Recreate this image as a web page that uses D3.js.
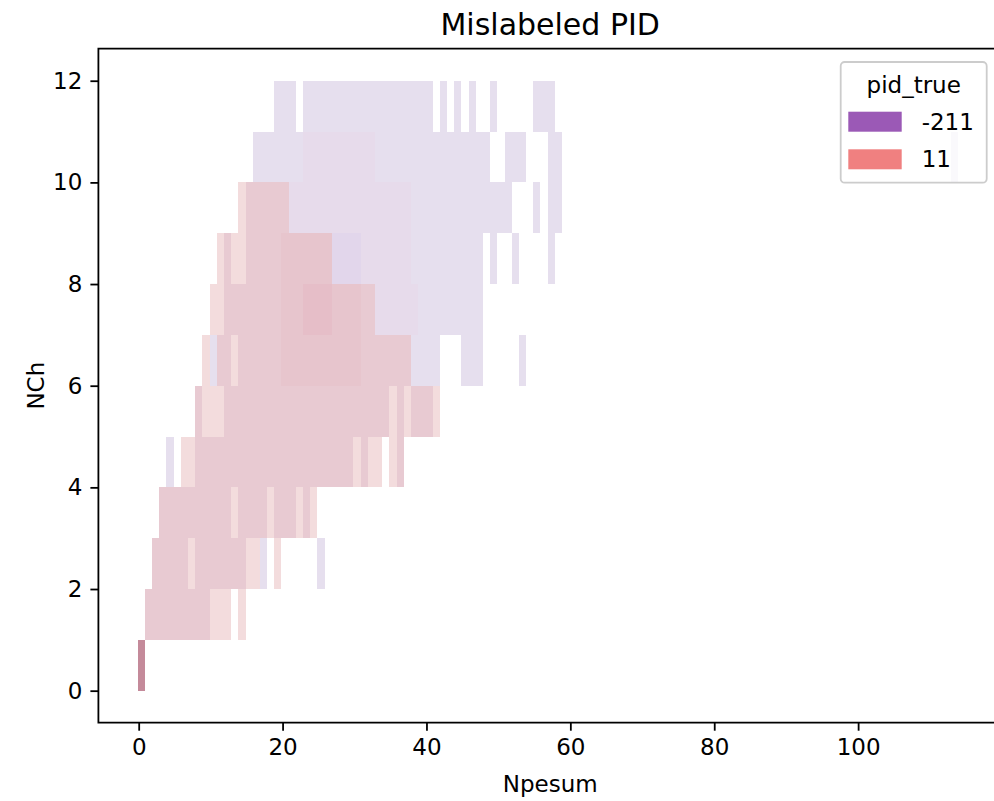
<!DOCTYPE html>
<html>
<head>
<meta charset="utf-8">
<script src="https://cdn.jsdelivr.net/npm/d3@7"></script>
<style>
  body { margin: 0; background: #fff; }
  text { font-family: "DejaVu Sans", sans-serif; fill: #000; }
</style>
</head>
<body>
<svg id="chart" width="994" height="801"></svg>
<script>
// Npesum bins: uniform, width 1, first edge just below 0
var npesumBinStart = -0.15;
var npesumBinWidth = 1;

// cells per hue: [NCh bin, first Npesum bin, end bin (excl.), shade level]
var pionCells = [
  [11,19,22,1],[11,23,41,1],[11,42,43,1],[11,44,45,1],[11,46,47,1],[11,49,50,1],[11,55,58,1],
  [10,16,23,1],[10,23,33,2],[10,33,49,1],[10,51,54,1],[10,57,59,1],[10,113,114,1],
  [9,21,38,2],[9,38,52,1],[9,55,56,1],[9,57,59,1],
  [8,27,31,3],[8,31,38,2],[8,38,48,1],[8,49,50,1],[8,52,53,1],[8,57,58,1],
  [7,33,39,2],[7,39,48,1],
  [6,10,11,1],[6,38,42,1],[6,45,48,1],[6,53,54,1],
  [4,4,5,1],
  [2,17,18,1],[2,25,26,1]
];
var electronCells = [
  [9,14,15,1],[9,15,21,2],
  [8,11,12,1],[8,12,13,2],[8,13,15,1],[8,15,20,2],[8,20,27,3],
  [7,10,12,1],[7,12,20,2],[7,20,23,3],[7,23,27,4],[7,27,31,3],[7,31,33,2],
  [6,9,10,1],[6,11,13,2],[6,13,14,1],[6,14,20,2],[6,20,31,3],[6,31,38,2],
  [5,8,9,2],[5,9,12,1],[5,12,35,2],[5,35,36,1],[5,36,37,2],[5,37,38,1],[5,38,41,2],[5,41,42,1],
  [4,6,8,1],[4,8,30,2],[4,30,31,1],[4,31,32,2],[4,32,34,1],[4,35,36,1],[4,36,37,2],
  [3,3,13,2],[3,13,14,1],[3,14,18,2],[3,18,19,1],[3,19,22,2],[3,22,23,1],[3,23,24,2],[3,24,25,1],
  [2,2,7,2],[2,7,8,1],[2,8,15,2],[2,15,17,1],[2,19,20,1],
  [1,1,10,2],[1,10,13,1],[1,14,15,1],
  [0,0,1,5]
];

var hueLabels = ["-211", "11"];
var xTicks = [0, 20, 40, 60, 80, 100];
var yTicks = [0, 2, 4, 6, 8, 10, 12];

// colours
var hueColors = ["#9b59b6", "#f08080"];
var pionShades = {1: "#e6dfee", 2: "#e7dbeb", 3: "#e2d6eb"};
var electronShades = {1: "#f3dcdd", 2: "#e8cad2", 3: "#e7c5cd", 4: "#e6bec8", 5: "#c48a9a"};

(function() {
  var svg = d3.select("#chart");
  var pl = 98.4, pr = 1002, pt = 48.7, pb = 722.7;

  var x = d3.scaleLinear().domain([-5.6, 120]).range([pl, pr]);
  var y = d3.scaleLinear().domain([-0.63, 12.63]).range([pb, pt]);

  function drawCells(cells, shades, cls) {
    svg.append("g").attr("class", cls)
      .selectAll("rect").data(cells).enter().append("rect")
      .attr("x", function(d) { return x(npesumBinStart + d[1] * npesumBinWidth); })
      .attr("width", function(d) { return x(npesumBinStart + d[2] * npesumBinWidth) - x(npesumBinStart + d[1] * npesumBinWidth); })
      .attr("y", function(d) { return y(d[0] + 1); })
      .attr("height", function(d) { return y(d[0]) - y(d[0] + 1); })
      .attr("fill", function(d) { return shades[d[3]]; })
      .attr("shape-rendering", "crispEdges");
  }
  drawCells(pionCells, pionShades, "pion");
  drawCells(electronCells, electronShades, "electron");

  // axes
  var xAxis = svg.append("g").attr("transform", "translate(0," + pb + ")")
    .call(d3.axisBottom(x).tickValues(xTicks).tickSize(8).tickPadding(8).tickSizeOuter(0));
  var yAxis = svg.append("g").attr("transform", "translate(" + pl + ",0)")
    .call(d3.axisLeft(y).tickValues(yTicks).tickSize(8).tickPadding(8).tickSizeOuter(0));
  [xAxis, yAxis].forEach(function(g) {
    g.select(".domain").remove();
    g.selectAll(".tick line").attr("stroke", "#000").attr("stroke-width", 1.8);
    g.selectAll(".tick text").style("font-size", "23px").attr("fill", "#000");
  });

  // spines
  svg.append("path")
    .attr("d", "M" + pr + "," + pt + "H" + pl + "V" + pb + "H" + pr)
    .attr("fill", "none").attr("stroke", "#000").attr("stroke-width", 1.8);

  // title and labels
  svg.append("text").attr("x", (pl + pr) / 2).attr("y", 35)
    .attr("text-anchor", "middle").style("font-size", "30px").text("Mislabeled PID");
  svg.append("text").attr("x", (pl + pr) / 2).attr("y", 792)
    .attr("text-anchor", "middle").style("font-size", "23px").text("Npesum");
  svg.append("text").attr("transform", "translate(44," + (pt + pb) / 2 + ") rotate(-90)")
    .attr("text-anchor", "middle").style("font-size", "23px").text("NCh");

  // legend
  var lg = svg.append("g");
  lg.append("rect").attr("x", 840.7).attr("y", 62).attr("width", 146).attr("height", 120.7)
    .attr("rx", 4).attr("fill", "#fff").attr("fill-opacity", 0.8)
    .attr("stroke", "#cccccc").attr("stroke-width", 1.8);
  lg.append("text").attr("x", 913.7).attr("y", 93).attr("text-anchor", "middle")
    .style("font-size", "23px").text("pid_true");
  hueLabels.forEach(function(lab, i) {
    var yy = 111.7 + i * 37.6;
    lg.append("rect").attr("x", 848.3).attr("y", yy).attr("width", 53.4).attr("height", 20)
      .attr("fill", hueColors[i]);
    lg.append("text").attr("x", 921.7).attr("y", yy + 18).style("font-size", "23px").text(lab);
  });
})();
</script>
</body>
</html>
